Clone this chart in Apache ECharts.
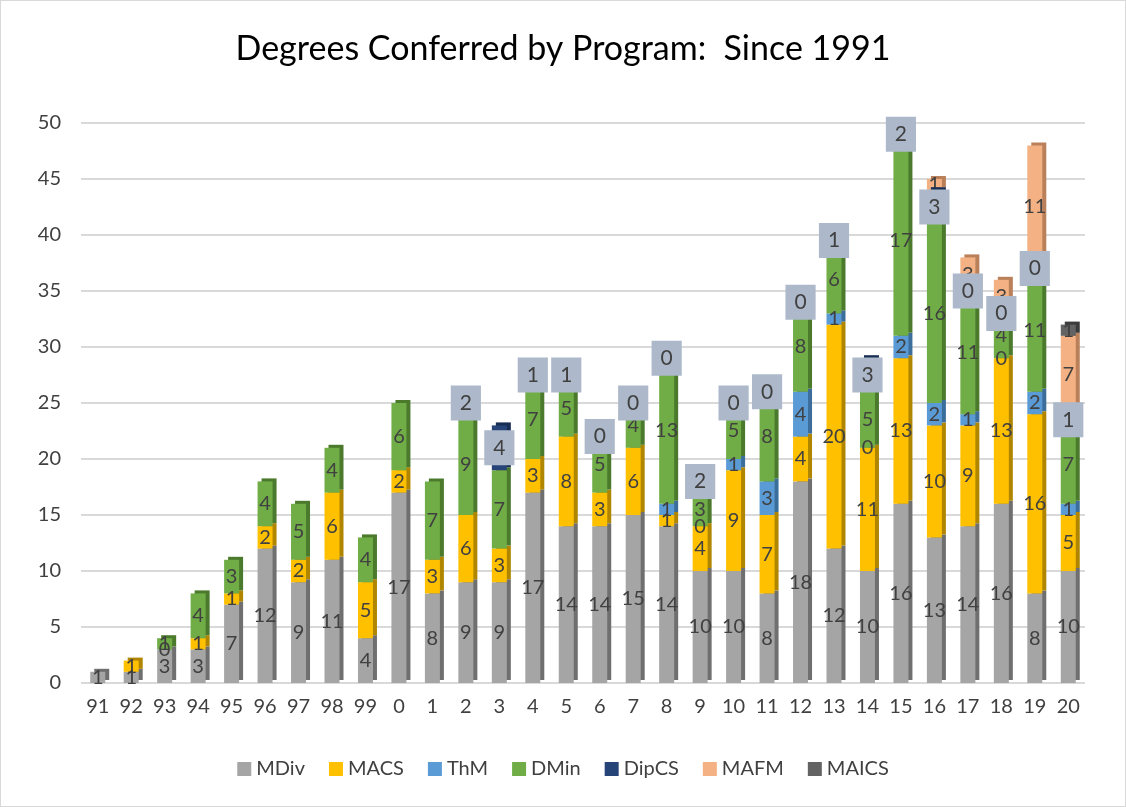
<!DOCTYPE html>
<html>
<head>
<meta charset="utf-8">
<script src="https://cdn.jsdelivr.net/npm/echarts@6/dist/echarts.min.js"></script>
<style>
  html, body { margin: 0; padding: 0; background: #fff; }
  #main { width: 1124px; height: 805px; border: 1px solid #d9d9d9; }
</style>
</head>
<body>
<div id="main"></div>
<script>
// years (two-digit), 1991 .. 2020
const years = ['91','92','93','94','95','96','97','98','99','0','1','2','3','4','5',
  '6','7','8','9','10','11','12','13','14','15','16','17','18','19','20'];

const mdiv  = [1,1,3,3,7,12,9,11,4,17,8,9,9,17,14,14,15,14,10,10,8,18,12,10,16,13,14,16,8,10];
const macs  = [null,1,0,1,1,2,2,6,5,2,3,6,3,3,8,3,6,1,4,9,7,4,20,11,13,10,9,13,16,5];
const thm   = [null,null,null,null,null,null,null,null,null,null,null,null,null,null,null,null,null,
  1,0,1,3,4,1,0,2,2,1,0,2,1];
const dmin  = [null,null,1,4,3,4,5,4,4,6,7,9,7,7,5,5,4,13,3,5,8,8,6,5,17,16,11,4,11,7];
const dipcs = [null,null,null,null,null,null,null,null,null,null,null,
  2,4,1,1,0,0,0,2,0,0,0,1,3,2,3,0,0,0,1];
const mafm  = [null,null,null,null,null,null,null,null,null,null,null,null,null,null,null,
  null,null,null,null,null,null,null,null,null,null,1,3,3,11,7];
const maics = [null,null,null,null,null,null,null,null,null,null,null,null,null,null,null,
  null,null,null,null,null,null,null,null,null,null,null,null,null,null,1];

const yTicks = [0, 5, 10, 15, 20, 25, 30, 35, 40, 45, 50];

const FONT = 'Lato, "Open Sans", sans-serif';

function stackSeries(name, data, color, side) {
  return {
    name: name,
    type: 'bar',
    stack: 'total',
    barWidth: 15,
    data: data,
    itemStyle: {
      color: color,
      shadowColor: side,
      shadowOffsetX: 4,
      shadowOffsetY: -3,
      shadowBlur: 0
    },
    label: {
      show: true,
      position: 'inside',
      color: '#404040',
      fontSize: 20,
      fontFamily: FONT
    }
  };
}

const chart = echarts.init(document.getElementById('main'));

const series = [
  stackSeries('MDiv', mdiv, '#a5a5a5', '#6f6f6f'),
  stackSeries('MACS', macs, '#ffc000', '#b08600'),
  stackSeries('ThM', thm, '#5b9bd5', '#3c6e9c'),
  stackSeries('DMin', dmin, '#70ad47', '#4b7a2d'),
  stackSeries('DipCS', dipcs, '#264478', '#172d52'),
  stackSeries('MAFM', mafm, '#f4b183', '#b9805a'),
  stackSeries('MAICS', maics, '#636363', '#3b3b3b')
];
// DipCS labels sit in grey-blue boxes
series[4].label = {
  show: true,
  position: 'inside',
  color: '#404040',
  fontSize: 21,
  fontFamily: FONT,
  backgroundColor: '#adb9ca',
  padding: [8, 9, 6, 9]
};
series[4].z = 3;

chart.setOption({
  animation: false,
  textStyle: { fontFamily: FONT },
  title: {
    text: 'Degrees Conferred by Program:  Since 1991',
    left: 'center',
    top: 26,
    textStyle: { fontSize: 34, fontWeight: 'normal', color: '#000', fontFamily: FONT }
  },
  legend: {
    bottom: 22,
    left: 'center',
    itemWidth: 14,
    itemHeight: 14,
    itemGap: 24,
    icon: 'rect',
    textStyle: { fontSize: 20, color: '#404040', fontFamily: FONT },
    data: ['MDiv', 'MACS', 'ThM', 'DMin', 'DipCS', 'MAFM', 'MAICS']
  },
  grid: { left: 80, right: 40, top: 122, bottom: 123 },
  xAxis: {
    type: 'category',
    data: years,
    axisLine: { show: false },
    axisTick: { show: false },
    axisLabel: { fontSize: 20, color: '#404040', margin: 14, fontFamily: FONT }
  },
  yAxis: {
    type: 'value',
    min: yTicks[0],
    max: yTicks[yTicks.length - 1],
    interval: 5,
    axisLine: { show: false },
    axisTick: { show: false },
    axisLabel: { fontSize: 20, color: '#404040', margin: 20, fontFamily: FONT },
    splitLine: { lineStyle: { color: '#d9d9d9', width: 2 } }
  },
  series: series
});
</script>
</body>
</html>
